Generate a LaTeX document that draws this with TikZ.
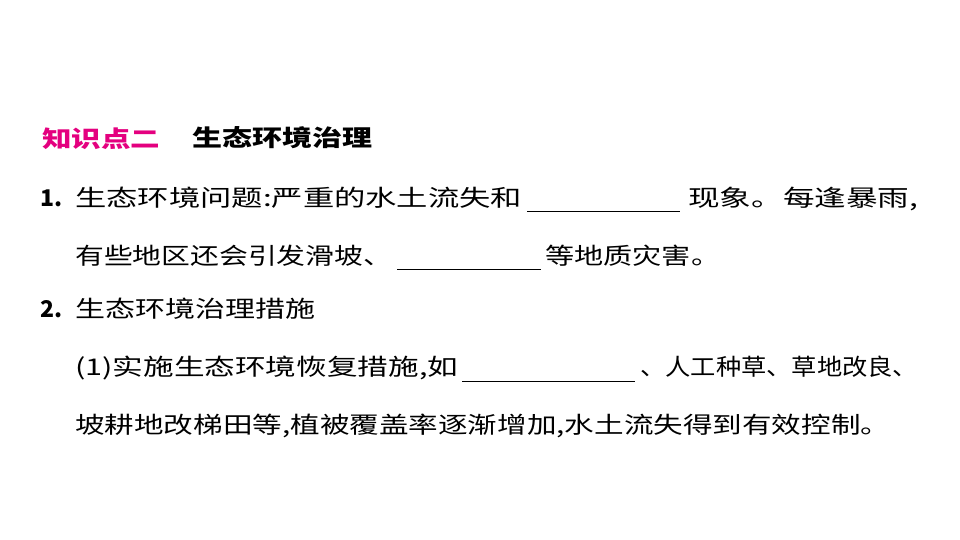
\documentclass[tikz,border=0pt]{standalone}
\usepackage{fontspec}
\usepackage{graphicx}
\setmainfont{Noto Sans CJK SC}
\newfontfamily\cjkb[BoldFont={Noto Sans CJK SC Bold}]{Noto Sans CJK SC}
\definecolor{pinkt}{HTML}{E4007F}
\begin{document}
\begin{tikzpicture}[x=1pt,y=-1pt,
  t/.style={anchor=base west,inner sep=0pt,font=\fontsize{23}{23}\selectfont},
  blank/.style={line width=0.8pt}]
\useasboundingbox[fill=white] (0,0) rectangle (960,540);
\node[t,text=pinkt,font=\fontsize{23}{23}\selectfont\bfseries] (h1) at (42,147) {\resizebox{118pt}{\height}{知识点二}};
\node[t,font=\fontsize{23}{23}\selectfont\bfseries] (h2) at (192,147) {\resizebox{180pt}{\height}{生态环境治理}};
% line 1
\node[t,font=\fontsize{23}{23}\selectfont\bfseries] (n1) at (40,206) {1.};
\node[t] (a1) at (75,206) {\resizebox{447pt}{\height}{生态环境问题:严重的水土流失和}};
\coordinate (b1s) at (527,211); \coordinate (b1e) at (680,211);
\draw[blank] (b1s) -- (b1e);
\node[t] (a2) at (688,206) {\resizebox{230pt}{\height}{现象。每逢暴雨,}};
% line 2
\node[t] (c1) at (75,264) {\resizebox{317pt}{\height}{有些地区还会引发滑坡、}};
\coordinate (b2s) at (397,269); \coordinate (b2e) at (541,269);
\draw[blank] (b2s) -- (b2e);
\node[t] (c2) at (545,264) {\resizebox{175pt}{\height}{等地质灾害。}};
% line 3
\node[t,font=\fontsize{23}{23}\selectfont\bfseries] (n2) at (40,317) {2.};
\node[t] (d1) at (75,317) {\resizebox{240pt}{\height}{生态环境治理措施}};
% line 4
\node[t] (e1) at (75,375) {\resizebox{383pt}{\height}{(1)实施生态环境恢复措施,如}};
\coordinate (b3s) at (462,381); \coordinate (b3e) at (635,381);
\draw[blank] (b3s) -- (b3e);
\node[t] (e2) at (640,375) {\resizebox{278pt}{\height}{、人工种草、草地改良、}};
% line 5
\node[t] (f1) at (75,433) {\resizebox{815pt}{\height}{坡耕地改梯田等,植被覆盖率逐渐增加,水土流失得到有效控制。}};
\end{tikzpicture}
\end{document}
